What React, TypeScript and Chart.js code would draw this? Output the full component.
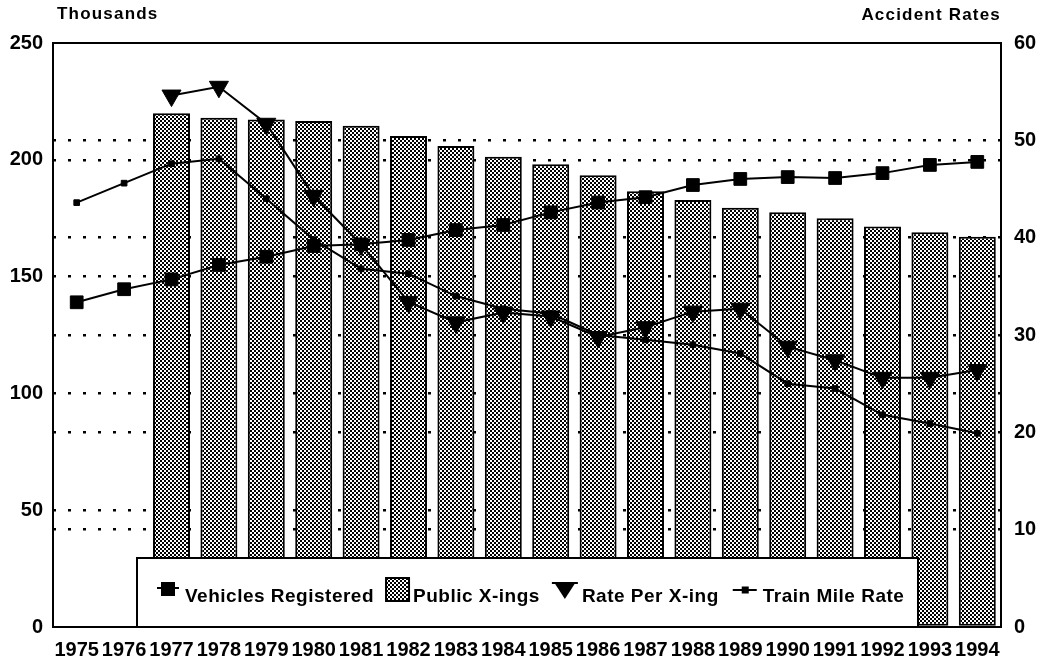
import React, { useEffect, useRef } from "react";
import { Chart, registerables } from "chart.js";

Chart.register(...registerables);

const years = ["1975","1976","1977","1978","1979","1980","1981","1982","1983","1984","1985","1986","1987","1988","1989","1990","1991","1992","1993","1994"];
const vehiclesRegistered = [139.0,144.6,148.8,155.0,158.5,163.1,163.8,165.7,169.9,172.1,177.5,181.7,184.0,189.2,191.8,192.6,192.2,194.3,197.8,199.1];
const publicXings = [null,null,219.9,218.0,217.3,216.6,214.6,210.2,205.9,201.3,198.1,193.4,186.5,182.8,179.5,177.5,175.0,171.4,169.0,167.1];
const ratePerXing = [null,null,54.6,55.5,51.7,44.3,39.3,33.4,31.3,32.3,31.9,29.8,30.8,32.4,32.7,28.8,27.4,25.6,25.6,26.4];
const trainMileRate = [43.6,45.6,47.6,48.1,44.0,39.8,36.8,36.3,34.0,32.7,32.2,30.0,29.5,29.0,28.1,25.0,24.5,21.8,20.9,19.9];
const leftTicks = { min: 0, max: 250, step: 50 };
const rightTicks = { min: 0, max: 60, step: 10 };
const leftTitle = "Thousands";
const rightTitle = "Accident Rates";
const legendLabels = ["Vehicles Registered", "Public X-ings", "Rate Per X-ing", "Train Mile Rate"];

const FONT = "'Liberation Sans', Arial, sans-serif";

function makePattern(ctx: CanvasRenderingContext2D) {
  const pc = document.createElement("canvas");
  pc.width = 4;
  pc.height = 4;
  const p = pc.getContext("2d")!;
  p.fillStyle = "#fff";
  p.fillRect(0, 0, 4, 4);
  p.fillStyle = "#000";
  p.fillRect(0, 0, 2, 2);
  p.fillRect(2, 2, 2, 2);
  return ctx.createPattern(pc, "repeat")!;
}

export default function App() {
  const ref = useRef<HTMLCanvasElement | null>(null);

  useEffect(() => {
    document.body.style.margin = "0";
    const canvas = ref.current!;
    const ctx0 = canvas.getContext("2d")!;
    const pattern = makePattern(ctx0);

    const framePlugin = {
      id: "frameAndTitles",
      afterDatasetsDraw(chart: any) {
        const { ctx, chartArea: ca } = chart;
        ctx.save();
        ctx.strokeStyle = "#000";
        ctx.lineWidth = 2;
        ctx.strokeRect(ca.left, ca.top, ca.right - ca.left, ca.bottom - ca.top);

        // legend box
        const bx = ca.left + 84;
        const bw = 781;
        const by = ca.bottom - 69;
        const bh = 69;
        ctx.fillStyle = "#fff";
        ctx.fillRect(bx, by, bw, bh);
        ctx.lineWidth = 2;
        ctx.strokeRect(bx, by, bw, bh);

        ctx.font = `bold 19px ${FONT}`;
        (ctx as any).letterSpacing = "0.5px";
        ctx.fillStyle = "#000";
        ctx.textAlign = "left";
        ctx.textBaseline = "alphabetic";
        const ty = by + 43.5;
        const my = by + 32;
        let x = bx + 20;

        // Vehicles Registered
        ctx.beginPath();
        ctx.lineWidth = 2;
        ctx.moveTo(x, my - 2);
        ctx.lineTo(x + 22, my - 2);
        ctx.stroke();
        ctx.fillRect(x + 4, my - 8, 14, 14);
        x += 28;
        ctx.fillText(legendLabels[0], x, ty);
        x += ctx.measureText(legendLabels[0]).width + 12;

        // Public X-ings
        ctx.fillStyle = pattern;
        ctx.fillRect(x, by + 20, 23, 23);
        ctx.strokeRect(x, by + 20, 23, 23);
        ctx.fillStyle = "#000";
        x += 27;
        ctx.fillText(legendLabels[1], x, ty);
        x += ctx.measureText(legendLabels[1]).width + 14;

        // Rate Per X-ing
        ctx.beginPath();
        ctx.moveTo(x - 2, by + 25);
        ctx.lineTo(x + 24, by + 25);
        ctx.stroke();
        ctx.beginPath();
        ctx.moveTo(x, by + 24);
        ctx.lineTo(x + 22, by + 24);
        ctx.lineTo(x + 11, by + 41);
        ctx.closePath();
        ctx.fill();
        x += 28;
        ctx.fillText(legendLabels[2], x, ty);
        x += ctx.measureText(legendLabels[2]).width + 14;

        // Train Mile Rate
        ctx.beginPath();
        ctx.moveTo(x, my);
        ctx.lineTo(x + 24, my);
        ctx.stroke();
        ctx.fillRect(x + 9, my - 3.5, 7, 7);
        x += 30;
        ctx.fillText(legendLabels[3], x, ty);

        // axis titles
        ctx.font = `bold 17px ${FONT}`;
        (ctx as any).letterSpacing = "1.2px";
        ctx.textAlign = "left";
        ctx.fillText(leftTitle, ca.left + 4, 19);
        ctx.textAlign = "right";
        ctx.fillText(rightTitle, ca.right, 20);
        ctx.restore();
      },
    };

    const gridColor = (max: number) => (c: any) =>
      c.tick && (c.tick.value === 0 || c.tick.value === max) ? "rgba(0,0,0,0)" : "#000";

    const chart = new Chart(canvas, {
      type: "bar",
      data: {
        labels: years,
        datasets: [
          {
            type: "line",
            label: legendLabels[0],
            data: vehiclesRegistered,
            yAxisID: "y",
            borderColor: "#000",
            borderWidth: 2,
            pointStyle: "rect",
            pointRadius: 9,
            pointBackgroundColor: "#000",
            pointBorderColor: "#000",
            pointBorderWidth: 1,
            tension: 0,
            order: 1,
          },
          {
            type: "bar",
            label: legendLabels[1],
            data: publicXings,
            yAxisID: "y",
            backgroundColor: pattern,
            borderColor: "#000",
            borderWidth: 2,
            borderSkipped: false,
            barPercentage: 0.78,
            categoryPercentage: 1,
            order: 10,
          },
          {
            type: "line",
            label: legendLabels[2],
            data: ratePerXing,
            yAxisID: "y1",
            borderColor: "#000",
            borderWidth: 2,
            pointStyle: "triangle",
            pointRotation: 180,
            pointRadius: 11,
            pointBackgroundColor: "#000",
            pointBorderColor: "#000",
            pointBorderWidth: 1,
            tension: 0,
            spanGaps: false,
            order: 2,
          },
          {
            type: "line",
            label: legendLabels[3],
            data: trainMileRate,
            yAxisID: "y1",
            borderColor: "#000",
            borderWidth: 2,
            pointStyle: "rect",
            pointRadius: 4,
            pointBackgroundColor: "#000",
            pointBorderColor: "#000",
            pointBorderWidth: 1,
            tension: 0,
            order: 3,
          },
        ] as any,
      },
      options: {
        animation: false,
        responsive: false,
        maintainAspectRatio: false,
        layout: { padding: { top: 43, left: 0, right: 0, bottom: 0 } },
        plugins: {
          legend: { display: false },
          tooltip: { enabled: false },
          title: { display: false },
        },
        scales: {
          x: {
            type: "category",
            offset: true,
            grid: { display: false, drawTicks: false, tickLength: 0 },
            border: { display: false },
            ticks: {
              color: "#000",
              font: { family: FONT, size: 20, weight: "bold" },
              padding: 11,
              autoSkip: false,
              maxRotation: 0,
              minRotation: 0,
            },
            afterFit: (s: any) => {
              s.height = 38;
            },
          },
          y: {
            position: "left",
            min: leftTicks.min,
            max: leftTicks.max,
            ticks: {
              stepSize: leftTicks.step,
              color: "#000",
              font: { family: FONT, size: 20, weight: "bold" },
              padding: 10,
            },
            grid: {
              color: gridColor(leftTicks.max),
              lineWidth: 2.5,
              drawTicks: false,
              tickLength: 0,
            },
            border: { display: false, dash: [3, 12] },
            afterFit: (s: any) => {
              s.width = 53;
            },
          },
          y1: {
            position: "right",
            min: rightTicks.min,
            max: rightTicks.max,
            ticks: {
              stepSize: rightTicks.step,
              color: "#000",
              font: { family: FONT, size: 20, weight: "bold" },
              padding: 13,
            },
            grid: {
              color: gridColor(rightTicks.max),
              lineWidth: 2.5,
              drawTicks: false,
              tickLength: 0,
              drawOnChartArea: true,
            },
            border: { display: false, dash: [3, 12] },
            afterFit: (s: any) => {
              s.width = 37;
            },
          },
        },
      } as any,
      plugins: [framePlugin],
    });

    return () => {
      chart.destroy();
    };
  }, []);

  return (
    <div style={{ width: 1038, height: 665 }}>
      <canvas ref={ref} width={1038} height={665} style={{ display: "block" }} />
    </div>
  );
}
